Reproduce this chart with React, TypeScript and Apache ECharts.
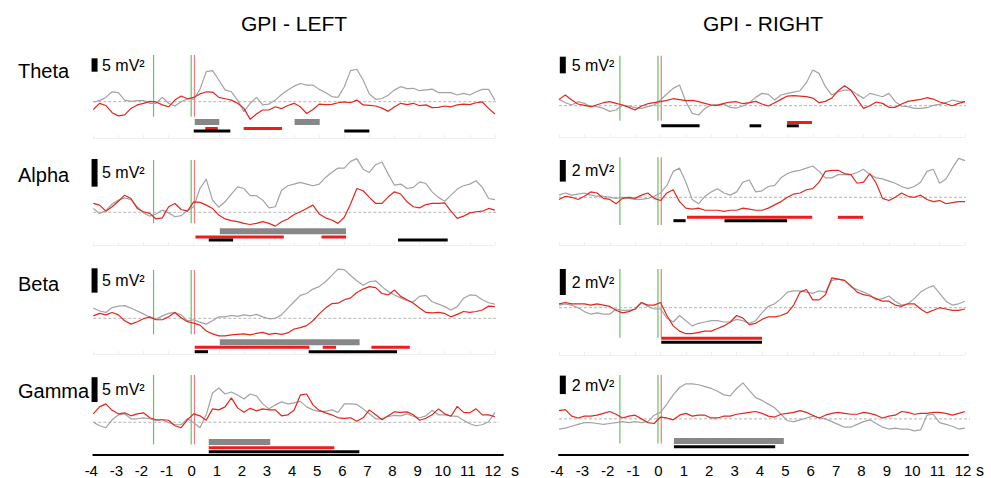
import { useEffect, useRef } from "react";
import * as echarts from "echarts";

// ---------- data ----------
const TIME = Array.from({ length: 65 }, (_, i) => -4 + i * 0.25); // seconds, -4 .. 12
const TICKS = [-4, -3, -2, -1, 0, 1, 2, 3, 4, 5, 6, 7, 8, 9, 10, 11, 12];
const BANDS = ["Theta", "Alpha", "Beta", "Gamma"];
const SIDES = ["GPI - LEFT", "GPI - RIGHT"];
const GREEN_MARKS = [-1.6, -0.1];
const RED_MARKS = [0.03];
const SCALE_L = [5, 5, 5, 5];
const SCALE_R = [5, 2, 2, 2];

const THETA_L_GREY = [-0.1,0.4,1.6,3.7,3.4,0.6,0.1,0.4,0.4,-0.6,-0.6,1.6,-0.6,-1.6,0,1.1,0.9,4.6,11.2,11.6,8.1,4.4,3.7,0.6,-3.7,-0.6,1.6,-1.2,-0.9,0.6,2.7,4.4,5.8,6.8,6.2,6.2,4.6,3.4,1.9,1.6,5.6,11.6,12.1,8.1,2.9,0.9,1.2,2.4,4.4,5.6,4.9,5.0,4.1,4.4,4.7,3.4,3.4,3.4,2.5,3.1,2.5,3.7,4.6,4.6,0.6];
const THETA_L_RED = [-2.9,-0.6,-1.4,-4.1,-5.3,-4.9,-2.5,-1.2,-0.6,0.1,-0.1,-1.2,-1.9,0.6,2.1,1.1,1.6,2.9,3.7,3.6,1.6,1.1,0.6,-0.6,-2.5,-6.6,-4.6,-3.1,-3.1,-1.9,-2.6,-1.4,-0.6,-1.9,-4.4,-2.9,-0.9,-1.1,-1.0,-0.4,-0.1,-0.4,0.6,-1.2,-1.4,-1.6,-2.4,-3.6,-1.9,-0.6,-1.1,-0.6,-1.5,-1.2,-2.2,-2.1,-1.6,-1.9,-1.2,-0.9,-1.1,-0.4,-0.1,-2.5,-4.6];
const THETA_R_GREY = [1.9,0.9,0.2,1.2,0.7,-0.3,-0.3,-0.8,-1.7,-1.3,0.2,-0.1,-0.6,-0.8,-0.3,0.2,1.7,3.5,5.2,6.2,1.2,-2.3,-2.8,-0.8,0.2,0.3,0.5,-0.5,-0.7,-0.1,0.9,2.5,3.7,3.4,1.7,3.2,3.7,4.1,4.5,6.9,10.7,9.7,5.7,3.2,4.2,4.7,4.7,3.4,2.2,3.7,3.2,2.7,3.7,1.2,-0.1,-0.3,-0.8,-0.8,-0.6,0.1,0.4,0.9,1.7,1.3,1.2];
const THETA_R_RED = [1.9,3.2,1.7,0.5,0.1,-0.3,0.3,0.9,1.2,0.7,0.2,-0.5,-1.3,-0.1,0.6,0.9,1.2,1.6,2.1,1.8,1.5,1.6,1.2,0.7,0.2,0.1,0.7,1.1,1.2,0.6,0.9,1.3,0.5,-0.1,0.9,1.9,2.9,3.0,2.9,2.7,2.3,0.9,1.3,2.3,4.5,6.0,4.7,1.9,-0.8,0,1.1,0.7,-0.5,-0.5,0.5,1.3,1.6,1.9,2.4,2.0,1.1,0.6,0,0.7,1.2];
const ALPHA_L_GREY = [0.7,-0.2,0.3,1.5,2.2,2.6,2.3,1.0,-0.1,-0.7,-0.3,0.4,-0.1,-0.8,-0.6,0.3,1.0,4.3,6.0,2.2,0.9,1.9,3.3,4.6,4.3,3.0,3.0,2.2,0.8,1.0,4.0,4.8,5.1,5.4,5.1,4.8,5.1,6.3,7.2,8.0,8.0,9.2,9.7,7.8,7.2,8.6,9.1,6.9,4.9,5.1,4.3,4.5,5.5,5.2,3.7,2.7,2.0,3.1,4.2,4.8,5.1,5.7,4.5,2.5,2.3];
const ALPHA_L_RED = [1.6,1.3,0.2,1.0,2.0,3.1,2.5,0.7,0.1,-0.2,-1.2,-1.0,1.0,1.6,0.5,0.2,1.9,1.8,1.3,0.7,-0.5,-1.2,-1.5,-1.7,-2.0,-2.2,-2.0,-1.7,-2.0,-2.5,-1.7,-1.2,-0.4,0.1,0.7,1.3,-0.3,-1.0,-1.4,-2.0,-0.9,1.5,4.3,3.9,2.7,1.6,1.6,2.8,3.7,3.3,1.9,1.0,0.8,1.4,1.6,1.6,1.7,0.2,-1.1,-0.7,-0.1,0.1,0.2,0.7,0.4];
const ALPHA_R_GREY = [0.2,0.4,0.2,0.3,0.4,0.2,0.1,0.1,0,-0.1,0,-0.1,-0.2,-0.2,-0.1,0.1,0.4,1.1,2.4,2.7,1.4,-0.2,-0.6,0.1,0.5,0.8,0.4,0.2,0.5,1.4,1.6,0.5,0.6,1.0,1.1,1.8,2.2,2.4,2.5,2.7,2.9,2.4,1.8,1.8,2.1,2.1,2.1,2.3,2.6,2.1,1.8,1.7,1.5,1.3,1.0,0.8,1.0,1.4,2.4,2.6,1.3,1.7,2.7,3.6,3.4];
const ALPHA_R_RED = [-0.2,0.1,0,-0.2,0.1,0.5,0.4,-0.1,-0.2,-0.6,-0.1,0,-0.1,0.2,0.4,-0.1,-0.3,0.4,0.7,-0.4,-1.0,-1.1,-1.0,-1.2,-1.2,-1.2,-1.3,-1.2,-1.2,-1.0,-1.1,-1.2,-1.2,-1.0,-0.7,-0.4,0,0.3,0.4,0.7,0.8,1.4,2.4,2.5,2.5,2.2,2.1,1.3,1.4,2.2,1.3,-0.1,-0.3,0,0.4,0.1,0,0.2,-0.2,-0.4,-0.3,-0.6,-0.5,-0.4,-0.4];
const BETA_L_GREY = [2.1,1.5,1.2,2.2,2.5,2.6,2.1,1.5,0.9,0.2,-0.2,0.5,1.0,1.2,0.7,-0.5,-0.3,-0.8,-1.2,-0.5,0.3,0.3,0.6,0.4,0.7,0.5,0.8,0.3,-0.1,0,0.7,2.1,3.4,4.7,5.1,6.0,6.5,7.5,8.8,10.1,10.0,8.8,7.7,6.8,7.5,7.7,6.5,5.5,4.8,4.2,3.6,3.4,4.5,4.7,3.4,2.9,2.4,1.7,2.4,4.1,4.8,4.7,3.8,3.2,2.9];
const BETA_L_RED = [0.5,1.0,0.7,1.2,0.7,-0.5,-1.2,-0.7,-0.1,0.3,-0.3,-0.3,0.3,1.2,0.1,-0.7,-1.0,-1.4,-2.6,-3.2,-3.6,-3.6,-3.4,-3.3,-3.2,-3.4,-3.1,-2.9,-3.3,-3.1,-3.3,-3.0,-2.2,-1.9,-1.5,-0.5,0.9,2.1,3.0,3.1,3.8,4.2,5.3,6.0,6.5,6.3,5.1,4.8,5.8,4.5,3.8,3.1,2.1,1.2,1.1,1.2,1.0,0.3,0.8,1.4,1.2,1.4,1.7,2.5,2.4];
const BETA_R_GREY = [0.2,0.3,0.2,0,-0.3,-0.5,-0.4,-0.5,-0.5,-0.1,-0.2,-0.2,-0.1,0.4,0.1,-0.1,-0.1,-0.8,-1.1,-0.6,-1.0,-1.4,-1.2,-1.1,-1.0,-1.0,-1.1,-1.1,-0.9,-1.0,-1.2,-1.0,-0.4,0.1,0.3,0.7,1.2,1.3,1.3,1.2,1.1,1.3,1.2,2.1,2.2,2.1,1.6,1.4,1.2,1.0,0.6,0.7,0.9,0.5,0.2,0.3,0.7,1.2,1.5,1.7,1.1,0.5,0.2,0.3,0.5];
const BETA_R_RED = [0.3,0.4,0.3,0.3,0.3,0.2,0.3,0.2,0.1,-0.2,-0.4,-0.3,-0.1,0.4,0.2,0.2,0.4,-0.6,-1.4,-1.8,-2.0,-2.0,-1.9,-1.8,-1.8,-1.6,-1.4,-1.1,-0.6,-0.8,-1.3,-1.2,-0.9,-0.7,-0.7,-0.6,-0.4,0.2,1.2,1.4,0.6,0.6,1.0,2.3,2.2,2.1,1.7,1.2,1.0,0.9,0.7,0.5,0.5,0.2,0.1,0.3,0.3,-0.1,-0.4,-0.2,0,-0.1,-0.2,-0.2,-0.1];
const GAMMA_L_GREY = [0,-0.7,-1.1,0.5,1.5,1.7,0.7,0.7,0.9,0.7,0.3,0.5,-0.1,-0.5,-0.5,0.7,-0.1,-1.1,1.5,5.9,6.9,5.7,6.1,5.5,4.7,5.7,5.3,3.7,2.7,3.5,4.1,3.7,3.9,4.2,3.1,2.5,2.2,2.2,2.5,2.0,3.7,3.7,3.6,2.7,1.7,0.7,0.7,1.2,1.4,1.3,1.7,1.2,0.9,1.3,2.4,1.5,1.5,1.3,1.2,0.4,-0.3,-0.7,-0.5,0.1,2.0];
const GAMMA_L_RED = [1.7,3.1,3.7,2.4,1.7,1.9,1.3,1.7,1.9,0.9,0.5,0.5,0.4,-0.7,-1.1,0.5,1.7,1.3,0.4,2.7,2.5,3.1,4.9,2.9,2.0,2.8,2.3,2.7,2.5,2.5,1.3,1.5,2.4,5.5,5.7,3.5,2.4,1.9,1.5,0.9,0.8,0.9,0.2,0.9,2.5,1.5,0.5,1.3,2.1,2.0,2.1,1.5,0.4,0.8,1.5,2.7,1.7,1.2,3.2,2.0,1.9,2.7,1.5,1.5,1.1];
const GAMMA_R_GREY = [-1.1,-1.0,-0.8,-0.6,-0.4,-0.4,-0.5,-0.6,-0.5,-0.4,-0.3,-0.4,-0.3,-0.4,-0.3,0.4,0.7,1.6,2.6,3.4,3.8,3.8,3.7,3.5,3.3,3.0,2.6,2.5,3.3,3.9,3.1,2.3,2.0,1.6,1.2,0.5,-0.2,-0.3,-0.1,0.1,0.3,0.1,0,-0.3,-0.6,-0.9,-0.9,-0.6,-0.3,-0.1,-0.5,-0.9,-1.1,-1.0,-1.1,-1.1,-1.3,-1.2,0.4,0.5,-0.4,-0.6,-0.8,-1.1,-1.0];
const GAMMA_R_RED = [0.9,1.0,0.3,0.1,0.3,0.3,0.4,0.6,0.8,0.5,0.1,0.3,0.4,0,-0.4,-0.5,0.2,0.1,-0.1,0.4,0.6,0.3,0.4,0.4,0.1,0.1,0.3,0.3,0.5,0.6,0.7,0.8,0.6,0.3,0.2,0.5,0.6,0.7,0.9,0.7,0.4,0.1,0.4,0.6,0.7,0.6,0.5,0.5,0.7,0.6,0.4,0.1,0.3,0.4,0.8,0.7,0.5,0.6,0.6,0.7,0.7,0.6,0.4,0.6,0.8];

// significance intervals [start s, end s]
const THETA_L_GREY_SIG = [[0.04, 1.02], [4.02, 5.02]];
const THETA_L_RED_SIG = [[0.46, 0.96], [1.99, 3.52]];
const THETA_L_BLACK_SIG = [[0, 1.46], [6.0, 7.0]];
const THETA_R_GREY_SIG: number[][] = [];
const THETA_R_RED_SIG = [[4.99, 5.97]];
const THETA_R_BLACK_SIG = [[0.03, 1.54], [3.51, 3.97], [4.98, 5.45]];
const ALPHA_L_GREY_SIG = [[1.04, 6.07]];
const ALPHA_L_RED_SIG = [[0.07, 3.59], [5.09, 6.07]];
const ALPHA_L_BLACK_SIG = [[0.6, 1.57], [8.14, 10.12]];
const ALPHA_R_GREY_SIG: number[][] = [];
const ALPHA_R_RED_SIG = [[1.04, 5.98], [6.99, 7.98]];
const ALPHA_R_BLACK_SIG = [[0.51, 0.99], [2.52, 4.99]];
const BETA_L_GREY_SIG = [[1.04, 6.61]];
const BETA_L_RED_SIG = [[0.04, 4.61], [5.14, 5.67], [7.08, 8.61]];
const BETA_L_BLACK_SIG = [[0.04, 0.57], [4.58, 8.1]];
const BETA_R_GREY_SIG: number[][] = [];
const BETA_R_RED_SIG = [[0.03, 4.0]];
const BETA_R_BLACK_SIG = [[0.03, 4.0]];
const GAMMA_L_GREY_SIG = [[0.6, 3.05]];
const GAMMA_L_RED_SIG = [[0.6, 5.6]];
const GAMMA_L_BLACK_SIG = [[0.6, 6.6]];
const GAMMA_R_GREY_SIG = [[0.53, 4.86]];
const GAMMA_R_RED_SIG: number[][] = [];
const GAMMA_R_BLACK_SIG = [[0.53, 4.52]];

// ---------- layout (pixels) ----------
const COLS = [
  { x0: 93.3, pps: 25.1, axisMax: 12.32, sbT: -3.95, labelX: 102, titleX: 294, unitX: 515, baseEnd: 12.16 },
  { x0: 559, pps: 25.375, axisMax: 12.12, sbT: -3.85, labelX: 571.7, titleX: 763, unitX: 980, baseEnd: 12.2 },
];
const ROW_LABEL_Y = [71, 175, 284, 391];

type Panel = {
  col: number; row: number; grey: number[]; red: number[];
  gSig: number[][]; rSig: number[][]; kSig: number[][]; scale: number;
  yb: number; s: number; top: number; bottom: number; vTop: number; vBot: number;
  sbTop: number; gRow: number; rRow: number; kRow: number;
};

const PANELS: Panel[] = [
  { col: 0, row: 0, grey: THETA_L_GREY, red: THETA_L_RED, gSig: THETA_L_GREY_SIG, rSig: THETA_L_RED_SIG, kSig: THETA_L_BLACK_SIG, scale: SCALE_L[0],
    yb: 101.7, s: 2.68, top: 45, bottom: 138, vTop: 55, vBot: 116.7, sbTop: 58.3, gRow: 122, rRow: 128.5, kRow: 131 },
  { col: 0, row: 1, grey: ALPHA_L_GREY, red: ALPHA_L_RED, gSig: ALPHA_L_GREY_SIG, rSig: ALPHA_L_RED_SIG, kSig: ALPHA_L_BLACK_SIG, scale: SCALE_L[1],
    yb: 212.3, s: 5.53, top: 150, bottom: 245, vTop: 160, vBot: 223.3, sbTop: 159, gRow: 231.3, rRow: 237, kRow: 240 },
  { col: 0, row: 2, grey: BETA_L_GREY, red: BETA_L_RED, gSig: BETA_L_GREY_SIG, rSig: BETA_L_RED_SIG, kSig: BETA_L_BLACK_SIG, scale: SCALE_L[2],
    yb: 318.3, s: 4.87, top: 258, bottom: 354, vTop: 270, vBot: 334.3, sbTop: 268.3, gRow: 342.3, rRow: 347.3, kRow: 351.7 },
  { col: 0, row: 3, grey: GAMMA_L_GREY, red: GAMMA_L_RED, gSig: GAMMA_L_GREY_SIG, rSig: GAMMA_L_RED_SIG, kSig: GAMMA_L_BLACK_SIG, scale: SCALE_L[3],
    yb: 422.7, s: 5.0, top: 365, bottom: 455.7, vTop: 375, vBot: 445, sbTop: 377.3, gRow: 442.7, rRow: 448.3, kRow: 452.3 },
  { col: 1, row: 0, grey: THETA_R_GREY, red: THETA_R_RED, gSig: THETA_R_GREY_SIG, rSig: THETA_R_RED_SIG, kSig: THETA_R_BLACK_SIG, scale: SCALE_R[0],
    yb: 105.7, s: 3.33, top: 45, bottom: 137.7, vTop: 55.7, vBot: 120.7, sbTop: 56.7, gRow: 118, rRow: 122.5, kRow: 125.8 },
  { col: 1, row: 1, grey: ALPHA_R_GREY, red: ALPHA_R_RED, gSig: ALPHA_R_GREY_SIG, rSig: ALPHA_R_RED_SIG, kSig: ALPHA_R_BLACK_SIG, scale: SCALE_R[1],
    yb: 197.3, s: 10.8, top: 150, bottom: 245, vTop: 157.3, vBot: 225, sbTop: 160, gRow: 212, rRow: 217.3, kRow: 220.7 },
  { col: 1, row: 2, grey: BETA_R_GREY, red: BETA_R_RED, gSig: BETA_R_GREY_SIG, rSig: BETA_R_RED_SIG, kSig: BETA_R_BLACK_SIG, scale: SCALE_R[2],
    yb: 307.7, s: 13, top: 258, bottom: 355, vTop: 269, vBot: 337.7, sbTop: 269, gRow: 333, rRow: 338.3, kRow: 342.3 },
  { col: 1, row: 3, grey: GAMMA_R_GREY, red: GAMMA_R_RED, gSig: GAMMA_R_GREY_SIG, rSig: GAMMA_R_RED_SIG, kSig: GAMMA_R_BLACK_SIG, scale: SCALE_R[3],
    yb: 419.3, s: 9.3, top: 365, bottom: 455.7, vTop: 375, vBot: 444, sbTop: 375.7, gRow: 441.7, rRow: 446, kRow: 447.3 },
];

const FONT = "'Liberation Sans', Arial, Helvetica, sans-serif";
const C_GREY = "#a3a3a3";
const C_RED = "#e3271d";
const C_GREEN = "#62c462";
const C_MARK_RED = "#f07c7c";
const C_BAR_GREY = "#878787";
const C_FAINT = "#efefef";

function buildOption() {
  const grid: any[] = [];
  const xAxis: any[] = [];
  const yAxis: any[] = [];
  const series: any[] = [];
  const graphic: any[] = [];

  const seg = (i: number, data: number[][], color: string, width: number, z: number, extra: any = {}) => {
    series.push({
      type: "line", xAxisIndex: i, yAxisIndex: i, data, symbol: "none", showSymbol: false,
      silent: true, clip: false, z, lineStyle: { color, width, cap: "butt", ...extra },
    });
  };

  PANELS.forEach((p, i) => {
    const c = COLS[p.col];
    const isBottom = p.row === 3;
    const xmax = isBottom ? c.axisMax : 12;
    grid.push({ left: c.x0, top: p.top, width: (xmax + 4) * c.pps, height: p.bottom - p.top });
    xAxis.push({
      gridIndex: i, type: "value", min: -4, max: xmax, interval: 1, position: "bottom",
      axisLine: isBottom
        ? { show: true, onZero: false, lineStyle: { color: "#000", width: 2 } }
        : { show: true, onZero: false, lineStyle: { color: C_FAINT, width: 1 } },
      axisTick: isBottom ? { show: false } : { show: true, inside: true, length: 3, lineStyle: { color: C_FAINT } },
      axisLabel: isBottom
        ? { show: true, fontSize: 15, fontFamily: FONT, color: "#000", margin: 8, padding: [0, 4, 0, 0],
            formatter: (v: number) => (TICKS.includes(v) ? String(v) : "") }
        : { show: false },
      splitLine: { show: false },
    });
    const toVal = (px: number) => (p.yb - px) / p.s;
    yAxis.push({ gridIndex: i, type: "value", min: toVal(p.bottom), max: toVal(p.top), show: false, splitLine: { show: false } });

    // event markers
    GREEN_MARKS.forEach((t) => seg(i, [[t, toVal(p.vTop)], [t, toVal(p.vBot)]], C_GREEN, 1.2, 1));
    RED_MARKS.forEach((t) => seg(i, [[t, toVal(p.vTop)], [t, toVal(p.vBot)]], C_MARK_RED, 1.2, 1));
    // baseline
    seg(i, [[-4, 0], [c.baseEnd, 0]], "#b4b4b4", 1, 1, { type: [3, 2] });
    // traces
    series.push({ type: "line", xAxisIndex: i, yAxisIndex: i, data: TIME.map((t, k) => [t, p.grey[k]]),
      symbol: "none", showSymbol: false, silent: true, z: 2, lineStyle: { color: C_GREY, width: 1.2 } });
    series.push({ type: "line", xAxisIndex: i, yAxisIndex: i, data: TIME.map((t, k) => [t, p.red[k]]),
      symbol: "none", showSymbol: false, silent: true, z: 3, lineStyle: { color: C_RED, width: 1.2 } });
    // significance bars
    p.gSig.forEach(([a, b]) => seg(i, [[a, toVal(p.gRow)], [b, toVal(p.gRow)]], C_BAR_GREY, 6, 4));
    p.rSig.forEach(([a, b]) => seg(i, [[a, toVal(p.rRow)], [b, toVal(p.rRow)]], "#ee1c1c", 3, 5));
    p.kSig.forEach(([a, b]) => seg(i, [[a, toVal(p.kRow)], [b, toVal(p.kRow)]], "#000000", 3, 5));
    // scale bar
    const lo = toVal(p.sbTop + p.scale * p.s);
    seg(i, [[c.sbT, lo], [c.sbT, lo + p.scale]], "#000000", 6, 5);
    graphic.push({
      type: "text", x: c.labelX, y: p.sbTop + (p.scale * p.s) / 2, silent: true,
      style: { text: `${p.scale} mV²`, fontSize: 16, fontFamily: FONT, fill: "#000", align: "left", verticalAlign: "middle" },
    });
  });

  SIDES.forEach((t, k) => {
    graphic.push({ type: "text", x: COLS[k].titleX, y: 23, silent: true,
      style: { text: t, fontSize: 21, fontFamily: FONT, fill: "#000", align: "center", verticalAlign: "middle" } });
    graphic.push({ type: "text", x: COLS[k].unitX, y: 470, silent: true,
      style: { text: "s", fontSize: 16, fontFamily: FONT, fill: "#000", align: "center", verticalAlign: "middle" } });
  });
  BANDS.forEach((b, r) => {
    graphic.push({ type: "text", x: 18, y: ROW_LABEL_Y[r], silent: true,
      style: { text: b, fontSize: 20, fontFamily: FONT, fill: "#000", align: "left", verticalAlign: "middle" } });
  });

  return { animation: false, backgroundColor: "#ffffff", grid, xAxis, yAxis, series, graphic };
}

export default function App() {
  const ref = useRef<HTMLDivElement>(null);
  useEffect(() => {
    if (!ref.current) return;
    const chart = echarts.init(ref.current, undefined, { renderer: "svg" });
    chart.setOption(buildOption() as any);
    return () => chart.dispose();
  }, []);
  return <div ref={ref} style={{ position: "fixed", left: 0, top: 0, width: 991, height: 478, background: "#fff" }} />;
}
